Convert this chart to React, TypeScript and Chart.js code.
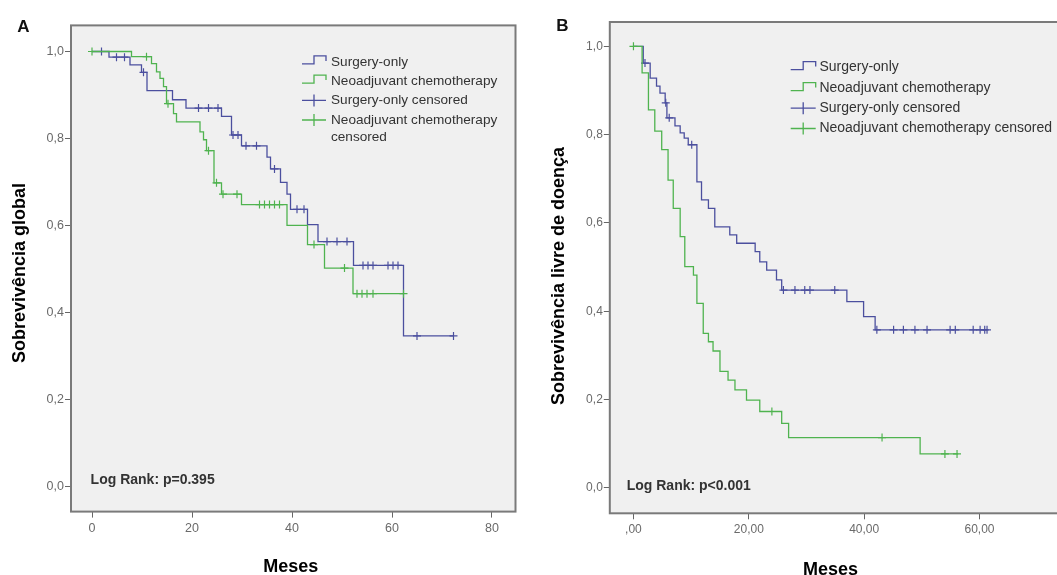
import React, { useEffect, useRef } from 'react';
import { Chart, registerables } from 'chart.js';
Chart.register(...registerables);

// ---------- Panel A : overall survival ----------
const A_SURG_TIME = [0, 3.4, 7.6, 9.9, 11.0, 16.1, 18.8, 25.9, 27.9, 29.9, 35.0, 35.7, 37.7, 39.0, 39.7, 43.1, 45.2, 52.3, 62.3, 72.3];
const A_SURG_SURV = [1.0, 0.987, 0.969, 0.952, 0.910, 0.889, 0.870, 0.851, 0.808, 0.783, 0.757, 0.730, 0.699, 0.672, 0.637, 0.602, 0.563, 0.508, 0.346, 0.346];
const A_NEO_TIME = [0, 7.9, 11.9, 12.9, 13.6, 14.3, 14.9, 16.3, 16.9, 21.6, 22.3, 22.9, 24.4, 25.9, 29.9, 39.0, 43.1, 46.5, 52.2, 62.3];
const A_NEO_SURV = [1.0, 0.988, 0.972, 0.953, 0.938, 0.919, 0.880, 0.857, 0.838, 0.815, 0.797, 0.772, 0.698, 0.672, 0.648, 0.600, 0.556, 0.502, 0.443, 0.443];
const A_SURG_CENS_TIME = [1.9, 4.9, 6.5, 10.3, 21.3, 23.3, 25.2, 28.2, 29.2, 30.8, 32.9, 36.5, 41.0, 42.4, 47.0, 49.0, 51.0, 54.2, 55.2, 56.2, 59.2, 60.2, 61.2, 65.0, 72.3];
const A_SURG_CENS_SURV = [1.0, 0.987, 0.987, 0.952, 0.870, 0.870, 0.870, 0.808, 0.808, 0.783, 0.783, 0.730, 0.637, 0.637, 0.563, 0.563, 0.563, 0.508, 0.508, 0.508, 0.508, 0.508, 0.508, 0.346, 0.346];
const A_NEO_CENS_TIME = [0, 10.9, 15.2, 23.3, 24.9, 26.2, 29.0, 33.5, 34.5, 35.5, 36.5, 37.5, 44.4, 50.5, 53.0, 54.0, 55.0, 56.2, 62.3];
const A_NEO_CENS_SURV = [1.0, 0.988, 0.880, 0.772, 0.698, 0.672, 0.672, 0.648, 0.648, 0.648, 0.648, 0.648, 0.556, 0.502, 0.443, 0.443, 0.443, 0.443, 0.443];

// ---------- Panel B : disease-free survival ----------
const B_SURG_TIME = [0, 1.7, 2.9, 4.0, 4.6, 5.5, 5.8, 7.2, 8.1, 8.8, 9.5, 11.0, 11.8, 13.0, 14.1, 16.7, 17.9, 21.1, 21.9, 23.1, 24.8, 25.7, 37.0, 39.9, 41.9, 61.3];
const B_SURG_SURV = [1.0, 0.962, 0.928, 0.910, 0.894, 0.872, 0.838, 0.820, 0.804, 0.792, 0.777, 0.693, 0.652, 0.633, 0.591, 0.573, 0.554, 0.535, 0.512, 0.493, 0.471, 0.448, 0.422, 0.388, 0.358, 0.358];
const B_NEO_TIME = [0, 1.5, 2.6, 3.7, 4.9, 6.0, 6.9, 8.1, 8.9, 10.4, 11.0, 12.1, 13.0, 13.8, 15.0, 16.4, 17.6, 19.6, 21.9, 25.7, 26.9, 49.7, 56.3];
const B_NEO_SURV = [1.0, 0.940, 0.856, 0.808, 0.766, 0.697, 0.633, 0.569, 0.501, 0.482, 0.418, 0.350, 0.331, 0.310, 0.264, 0.244, 0.222, 0.199, 0.173, 0.146, 0.114, 0.077, 0.077];
const B_SURG_CENS_TIME = [2.0, 5.6, 6.2, 10.1, 26.0, 28.0, 29.7, 30.6, 34.9, 42.2, 45.1, 46.8, 48.8, 50.9, 54.9, 55.8, 58.9, 60.1, 60.9, 61.3];
const B_SURG_CENS_SURV = [0.962, 0.872, 0.838, 0.777, 0.448, 0.448, 0.448, 0.448, 0.448, 0.358, 0.358, 0.358, 0.358, 0.358, 0.358, 0.358, 0.358, 0.358, 0.358, 0.358];
const B_NEO_CENS_TIME = [0, 24.0, 43.1, 54.0, 56.1];
const B_NEO_CENS_SURV = [1.0, 0.173, 0.114, 0.077, 0.077];

// ---------- axes / texts ----------
const Y_TICKS = [0, 0.2, 0.4, 0.6, 0.8, 1.0];
const Y_TICK_LABELS = ['0,0', '0,2', '0,4', '0,6', '0,8', '1,0'];
const X_TICKS = [0, 20, 40, 60, 80];
const A_X_TICK_LABELS = ['0', '20', '40', '60', '80'];
const B_X_TICK_LABELS = [',00', '20,00', '40,00', '60,00', '80,00'];
const LEGEND_A = ['Surgery-only', 'Neoadjuvant chemotherapy', 'Surgery-only censored', 'Neoadjuvant chemotherapy\ncensored'];
const LEGEND_B = ['Surgery-only', 'Neoadjuvant chemotherapy', 'Surgery-only censored', 'Neoadjuvant chemotherapy censored'];
const Y_TITLE_A = 'Sobrevivência global';
const Y_TITLE_B = 'Sobrevivência livre de doença';
const X_TITLE = 'Meses';
const LOGRANK_A = 'Log Rank: p=0.395';
const LOGRANK_B = 'Log Rank: p<0.001';

const BLUE = '#4b4f9e';
const GREEN = '#4fb34f';
const FONT = '"Liberation Sans", Arial, sans-serif';

const zip = (xs: number[], ys: number[]) => xs.map((x, i) => ({ x, y: ys[i] }));

function drawLegend(ctx: CanvasRenderingContext2D, lg: any, labels: string[]) {
  const colors = [BLUE, GREEN, BLUE, GREEN];
  ctx.save();
  ctx.font = `${lg.fontSize}px ${FONT}`;
  ctx.textBaseline = 'middle';
  ctx.textAlign = 'left';
  labels.forEach((lab, i) => {
    const y = lg.rows[i];
    const x0 = lg.iconX;
    const x1 = lg.iconX + lg.iconW;
    const xm = (x0 + x1) / 2;
    ctx.strokeStyle = colors[i];
    ctx.lineWidth = 1.3;
    ctx.beginPath();
    if (i < 2) {
      ctx.moveTo(x0, y + 2);
      ctx.lineTo(xm, y + 2);
      ctx.lineTo(xm, y - 6);
      ctx.lineTo(x1, y - 6);
      ctx.lineTo(x1, y - 1);
    } else {
      ctx.moveTo(x0, y);
      ctx.lineTo(x1, y);
      ctx.moveTo(xm, y - 6);
      ctx.lineTo(xm, y + 6);
    }
    ctx.stroke();
    ctx.fillStyle = '#333';
    lab.split('\n').forEach((line, j) => ctx.fillText(line, lg.textX, y + j * lg.lineH));
  });
  ctx.restore();
}

function makeDecor(p: any) {
  return {
    id: 'decor',
    beforeDraw(chart: any) {
      const { ctx, chartArea: a } = chart;
      ctx.save();
      ctx.fillStyle = '#f0f0f0';
      ctx.fillRect(a.left, a.top, a.right - a.left, a.bottom - a.top);
      ctx.restore();
    },
    afterDraw(chart: any) {
      const { ctx, chartArea: a } = chart;
      ctx.save();
      ctx.strokeStyle = '#7a7a7a';
      ctx.lineWidth = 2;
      ctx.strokeRect(a.left, a.top, a.right - a.left, a.bottom - a.top);
      // panel letter
      ctx.fillStyle = '#111';
      ctx.font = `bold 17px ${FONT}`;
      ctx.textAlign = 'center';
      ctx.textBaseline = 'middle';
      ctx.fillText(p.letter, p.letterPos[0], p.letterPos[1]);
      // x title
      ctx.font = `bold 18px ${FONT}`;
      ctx.fillStyle = '#000';
      ctx.fillText(X_TITLE, p.xTitlePos[0], p.xTitlePos[1]);
      // y title
      ctx.save();
      ctx.translate(p.yTitlePos[0], p.yTitlePos[1]);
      ctx.rotate(-Math.PI / 2);
      ctx.fillText(p.yTitle, 0, 0);
      ctx.restore();
      // log rank
      ctx.font = `bold 14px ${FONT}`;
      ctx.fillStyle = '#333';
      ctx.textAlign = 'left';
      ctx.fillText(p.logRank, p.logRankPos[0], p.logRankPos[1]);
      ctx.restore();
      drawLegend(ctx, p.legend, p.legendLabels);
    },
  };
}

function Panel(props: any) {
  const ref = useRef<HTMLCanvasElement>(null);
  const p = props.cfg;
  useEffect(() => {
    if (!ref.current) return;
    const lineDs = (label: string, data: any, color: string) => ({
      type: 'line', label, data, borderColor: color, borderWidth: 1.3, stepped: 'before',
      pointRadius: 0, fill: false, tension: 0,
    });
    const censDs = (label: string, data: any, color: string) => ({
      type: 'scatter', label, data, borderColor: color, backgroundColor: color, pointStyle: 'cross',
      pointRadius: 4, borderWidth: 1.2, showLine: false,
    });
    const chart = new Chart(ref.current, {
      type: 'line',
      data: {
        datasets: [
          lineDs('Neoadjuvant chemotherapy', zip(p.neoT, p.neoS), GREEN),
          censDs('Neoadjuvant chemotherapy censored', zip(p.neoCT, p.neoCS), GREEN),
          lineDs('Surgery-only', zip(p.surgT, p.surgS), BLUE),
          censDs('Surgery-only censored', zip(p.surgCT, p.surgCS), BLUE),
        ] as any,
      },
      options: {
        responsive: false,
        animation: false,
        events: [],
        layout: { padding: p.padding },
        plugins: { legend: { display: false }, tooltip: { enabled: false } },
        scales: {
          x: {
            type: 'linear', min: p.xMin, max: p.xMax,
            afterBuildTicks: (s: any) => { s.ticks = X_TICKS.map((v) => ({ value: v })); },
            afterFit: (s: any) => { s.height = p.xAxisH; },
            grid: { drawOnChartArea: false, drawTicks: true, tickLength: 6, color: '#666', lineWidth: 1 },
            border: { display: false },
            ticks: {
              color: '#6a6a6a', font: { family: FONT, size: p.tickSize }, padding: 3, maxRotation: 0,
              autoSkip: false, callback: (_v: any, i: number) => p.xLabels[i],
            },
          },
          y: {
            type: 'linear', min: p.yMin, max: p.yMax,
            afterBuildTicks: (s: any) => { s.ticks = Y_TICKS.map((v) => ({ value: v })); },
            afterFit: (s: any) => { s.width = p.yAxisW; },
            grid: { drawOnChartArea: false, drawTicks: true, tickLength: 6, color: '#666', lineWidth: 1 },
            border: { display: false },
            ticks: {
              color: '#6a6a6a', font: { family: FONT, size: p.tickSize }, padding: 1,
              autoSkip: false, callback: (_v: any, i: number) => Y_TICK_LABELS[i],
            },
          },
        },
      } as any,
      plugins: [makeDecor(p)],
    });
    return () => chart.destroy();
  }, []);
  return (
    <canvas ref={ref} width={p.w} height={575}
      style={{ position: 'absolute', left: p.left, top: 0, width: p.w, height: 575 }} />
  );
}

const CFG_A = {
  left: 0, w: 528,
  surgT: A_SURG_TIME, surgS: A_SURG_SURV, neoT: A_NEO_TIME, neoS: A_NEO_SURV,
  surgCT: A_SURG_CENS_TIME, surgCS: A_SURG_CENS_SURV, neoCT: A_NEO_CENS_TIME, neoCS: A_NEO_CENS_SURV,
  xMin: -4.2, xMax: 84.7, yMin: -0.058, yMax: 1.06,
  padding: { left: 0, top: 25.4, right: 12.5, bottom: 0 },
  yAxisW: 71, xAxisH: 63.4, tickSize: 12.5, xLabels: A_X_TICK_LABELS,
  letter: 'A', letterPos: [23.5, 27],
  yTitle: Y_TITLE_A, yTitlePos: [20, 273],
  xTitlePos: [290.7, 567.4],
  logRank: LOGRANK_A, logRankPos: [90.6, 480],
  legend: { iconX: 302, iconW: 24, textX: 331, rows: [61.9, 81.1, 100.4, 120], lineH: 17, fontSize: 13.6 },
  legendLabels: LEGEND_A,
};

const CFG_B = {
  left: 528, w: 610,
  surgT: B_SURG_TIME, surgS: B_SURG_SURV, neoT: B_NEO_TIME, neoS: B_NEO_SURV,
  surgCT: B_SURG_CENS_TIME, surgCS: B_SURG_CENS_SURV, neoCT: B_NEO_CENS_TIME, neoCS: B_NEO_CENS_SURV,
  xMin: -4.1, xMax: 84.7, yMin: -0.0575, yMax: 1.055,
  padding: { left: 0, top: 22, right: 16, bottom: 0 },
  yAxisW: 81.8, xAxisH: 61.7, tickSize: 12, xLabels: B_X_TICK_LABELS,
  letter: 'B', letterPos: [34.5, 26],
  yTitle: Y_TITLE_B, yTitlePos: [31, 276],
  xTitlePos: [302.4, 570],
  logRank: LOGRANK_B, logRankPos: [98.7, 486],
  legend: { iconX: 262.7, iconW: 25, textX: 291.4, rows: [67.6, 88.6, 108.2, 128.5], lineH: 17, fontSize: 14 },
  legendLabels: LEGEND_B,
};

export default function App() {
  return (
    <div style={{ position: 'absolute', left: 0, top: 0, width: 1057, height: 575, overflow: 'hidden', background: '#fff' }}>
      <Panel cfg={CFG_A} />
      <Panel cfg={CFG_B} />
    </div>
  );
}
